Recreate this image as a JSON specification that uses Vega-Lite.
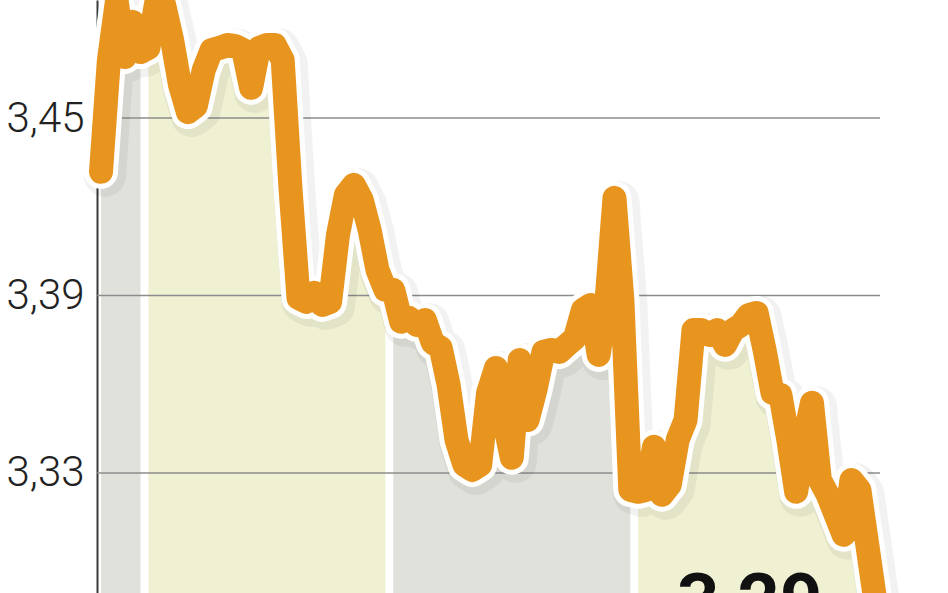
{
  "$schema": "https://vega.github.io/schema/vega-lite/v6.json",
  "width": 783,
  "height": 593,
  "padding": {"left": 97, "right": 68, "top": 0, "bottom": 0},
  "autosize": {"type": "none"},
  "background": "white",
  "config": {"view": {"stroke": null}},
  "datasets": {
    "rate": [
      {"i": 0, "v": 3.4318, "m": "A"}, {"i": 1, "v": 3.4696, "m": "A"}, {"i": 2, "v": 3.4892, "m": "A"},
      {"i": 3, "v": 3.4706, "m": "A"}, {"i": 4, "v": 3.4825, "m": "A"}, {"i": 5, "v": 3.4723, "m": "A"},
      {"i": 6, "v": 3.4737, "m": "B"}, {"i": 7, "v": 3.4892, "m": "B"}, {"i": 8, "v": 3.4882, "m": "B"},
      {"i": 9, "v": 3.4764, "m": "B"}, {"i": 10, "v": 3.4612, "m": "B"}, {"i": 11, "v": 3.4520, "m": "B"},
      {"i": 12, "v": 3.4540, "m": "B"}, {"i": 13, "v": 3.4662, "m": "B"}, {"i": 14, "v": 3.4730, "m": "B"},
      {"i": 15, "v": 3.4737, "m": "B"}, {"i": 16, "v": 3.4747, "m": "B"}, {"i": 17, "v": 3.4743, "m": "B"},
      {"i": 18, "v": 3.4730, "m": "B"}, {"i": 19, "v": 3.4602, "m": "B"}, {"i": 20, "v": 3.4737, "m": "B"},
      {"i": 21, "v": 3.4747, "m": "B"}, {"i": 22, "v": 3.4747, "m": "B"}, {"i": 23, "v": 3.4696, "m": "B"},
      {"i": 24, "v": 3.4257, "m": "B"}, {"i": 25, "v": 3.3892, "m": "B"}, {"i": 26, "v": 3.3878, "m": "B"},
      {"i": 27, "v": 3.3909, "m": "B"}, {"i": 28, "v": 3.3868, "m": "B"}, {"i": 29, "v": 3.3878, "m": "B"},
      {"i": 30, "v": 3.4105, "m": "B"}, {"i": 31, "v": 3.4240, "m": "B"}, {"i": 32, "v": 3.4274, "m": "B"},
      {"i": 33, "v": 3.4223, "m": "B"}, {"i": 34, "v": 3.4122, "m": "B"}, {"i": 35, "v": 3.3986, "m": "B"},
      {"i": 36, "v": 3.3919, "m": "B"},
      {"i": 37, "v": 3.3919, "m": "C"}, {"i": 38, "v": 3.3811, "m": "C"}, {"i": 39, "v": 3.3824, "m": "C"},
      {"i": 40, "v": 3.3800, "m": "C"}, {"i": 41, "v": 3.3817, "m": "C"}, {"i": 42, "v": 3.3740, "m": "C"},
      {"i": 43, "v": 3.3723, "m": "C"}, {"i": 44, "v": 3.3598, "m": "C"}, {"i": 45, "v": 3.3412, "m": "C"},
      {"i": 46, "v": 3.3327, "m": "C"}, {"i": 47, "v": 3.3310, "m": "C"}, {"i": 48, "v": 3.3327, "m": "C"},
      {"i": 49, "v": 3.3571, "m": "C"}, {"i": 50, "v": 3.3655, "m": "C"}, {"i": 51, "v": 3.3479, "m": "C"},
      {"i": 52, "v": 3.3351, "m": "C"}, {"i": 53, "v": 3.3682, "m": "C"}, {"i": 54, "v": 3.3479, "m": "C"},
      {"i": 55, "v": 3.3581, "m": "C"}, {"i": 56, "v": 3.3709, "m": "C"}, {"i": 57, "v": 3.3716, "m": "C"},
      {"i": 58, "v": 3.3709, "m": "C"}, {"i": 59, "v": 3.3733, "m": "C"}, {"i": 60, "v": 3.3756, "m": "C"},
      {"i": 61, "v": 3.3851, "m": "C"}, {"i": 62, "v": 3.3868, "m": "C"}, {"i": 63, "v": 3.3699, "m": "C"},
      {"i": 64, "v": 3.3885, "m": "C"}, {"i": 65, "v": 3.4230, "m": "C"}, {"i": 66, "v": 3.3885, "m": "C"},
      {"i": 67, "v": 3.3243, "m": "C"},
      {"i": 68, "v": 3.3236, "m": "D"}, {"i": 69, "v": 3.3243, "m": "D"}, {"i": 70, "v": 3.3388, "m": "D"},
      {"i": 71, "v": 3.3226, "m": "D"}, {"i": 72, "v": 3.3260, "m": "D"}, {"i": 73, "v": 3.3412, "m": "D"},
      {"i": 74, "v": 3.3479, "m": "D"}, {"i": 75, "v": 3.3783, "m": "D"}, {"i": 76, "v": 3.3783, "m": "D"},
      {"i": 77, "v": 3.3767, "m": "D"}, {"i": 78, "v": 3.3783, "m": "D"}, {"i": 79, "v": 3.3733, "m": "D"},
      {"i": 80, "v": 3.3783, "m": "D"}, {"i": 81, "v": 3.3800, "m": "D"}, {"i": 82, "v": 3.3834, "m": "D"},
      {"i": 83, "v": 3.3841, "m": "D"}, {"i": 84, "v": 3.3716, "m": "D"}, {"i": 85, "v": 3.3571, "m": "D"},
      {"i": 86, "v": 3.3564, "m": "D"}, {"i": 87, "v": 3.3412, "m": "D"}, {"i": 88, "v": 3.3236, "m": "D"},
      {"i": 89, "v": 3.3412, "m": "D"}, {"i": 90, "v": 3.3537, "m": "D"}, {"i": 91, "v": 3.3276, "m": "D"},
      {"i": 92, "v": 3.3226, "m": "D"}, {"i": 93, "v": 3.3158, "m": "D"}, {"i": 94, "v": 3.3091, "m": "D"},
      {"i": 95, "v": 3.3276, "m": "D"}, {"i": 96, "v": 3.3243, "m": "D"}, {"i": 97, "v": 3.3057, "m": "D"},
      {"i": 98, "v": 3.2871, "m": "D"}
    ],
    "grid": [{"g": 3.33}, {"g": 3.39}, {"g": 3.45}],
    "label": [{"i": 72.9, "v": 3.2783, "t": "3,29"}]
  },
  "layer": [
    {
      "data": {"name": "rate"},
      "mark": {"type": "area", "interpolate": "linear"},
      "encoding": {
        "x": {"field": "i", "type": "quantitative", "scale": {"domain": [-0.506, 98.61], "nice": false, "zero": false}, "axis": null},
        "y": {"field": "v", "type": "quantitative", "title": null, "scale": {"domain": [3.2894, 3.4899], "nice": false, "zero": false},
          "axis": {"values": [3.33, 3.39, 3.45], "grid": false, "ticks": false, "domain": true, "domainColor": "#3a3a3a", "domainWidth": 2,
            "labelFont": "Roboto", "labelFontWeight": 300, "labelFontSize": 42, "labelColor": "#222222", "labelPadding": 13,
            "labelExpr": "replace(format(datum.value, '.2f'), '.', ',')", "title": null}},
        "y2": {"datum": 3.2894},
        "color": {"field": "m", "type": "nominal", "scale": {"domain": ["A", "B", "C", "D"], "range": ["#E1E1DB", "#F0F0D3", "#E1E1DB", "#F0F0D3"]}, "legend": null}
      }
    },
    {
      "data": {"name": "grid"},
      "mark": {"type": "rule", "color": "#8c8c8c", "strokeWidth": 1.5},
      "encoding": {"y": {"field": "g", "type": "quantitative", "title": null}}
    },
    {
      "data": {"name": "rate"},
      "mark": {"type": "line", "color": "#000000", "opacity": 0.05, "strokeWidth": 42, "strokeJoin": "round", "strokeCap": "round", "xOffset": 4, "yOffset": 4},
      "encoding": {"x": {"field": "i", "type": "quantitative"}, "y": {"field": "v", "type": "quantitative", "title": null}}
    },
    {
      "data": {"name": "rate"},
      "mark": {"type": "line", "color": "#ffffff", "strokeWidth": 34, "strokeJoin": "round", "strokeCap": "round"},
      "encoding": {"x": {"field": "i", "type": "quantitative"}, "y": {"field": "v", "type": "quantitative", "title": null}}
    },
    {
      "data": {"name": "rate"},
      "mark": {"type": "line", "color": "#E8951F", "strokeWidth": 24, "strokeJoin": "round", "strokeCap": "round"},
      "encoding": {"x": {"field": "i", "type": "quantitative"}, "y": {"field": "v", "type": "quantitative", "title": null}}
    },
    {
      "data": {"name": "label"},
      "mark": {"type": "text", "font": "Roboto", "fontWeight": "bold", "fontSize": 74, "color": "#111111", "align": "left", "baseline": "alphabetic"},
      "encoding": {"x": {"field": "i", "type": "quantitative"}, "y": {"field": "v", "type": "quantitative", "title": null}, "text": {"field": "t"}}
    }
  ]
}
